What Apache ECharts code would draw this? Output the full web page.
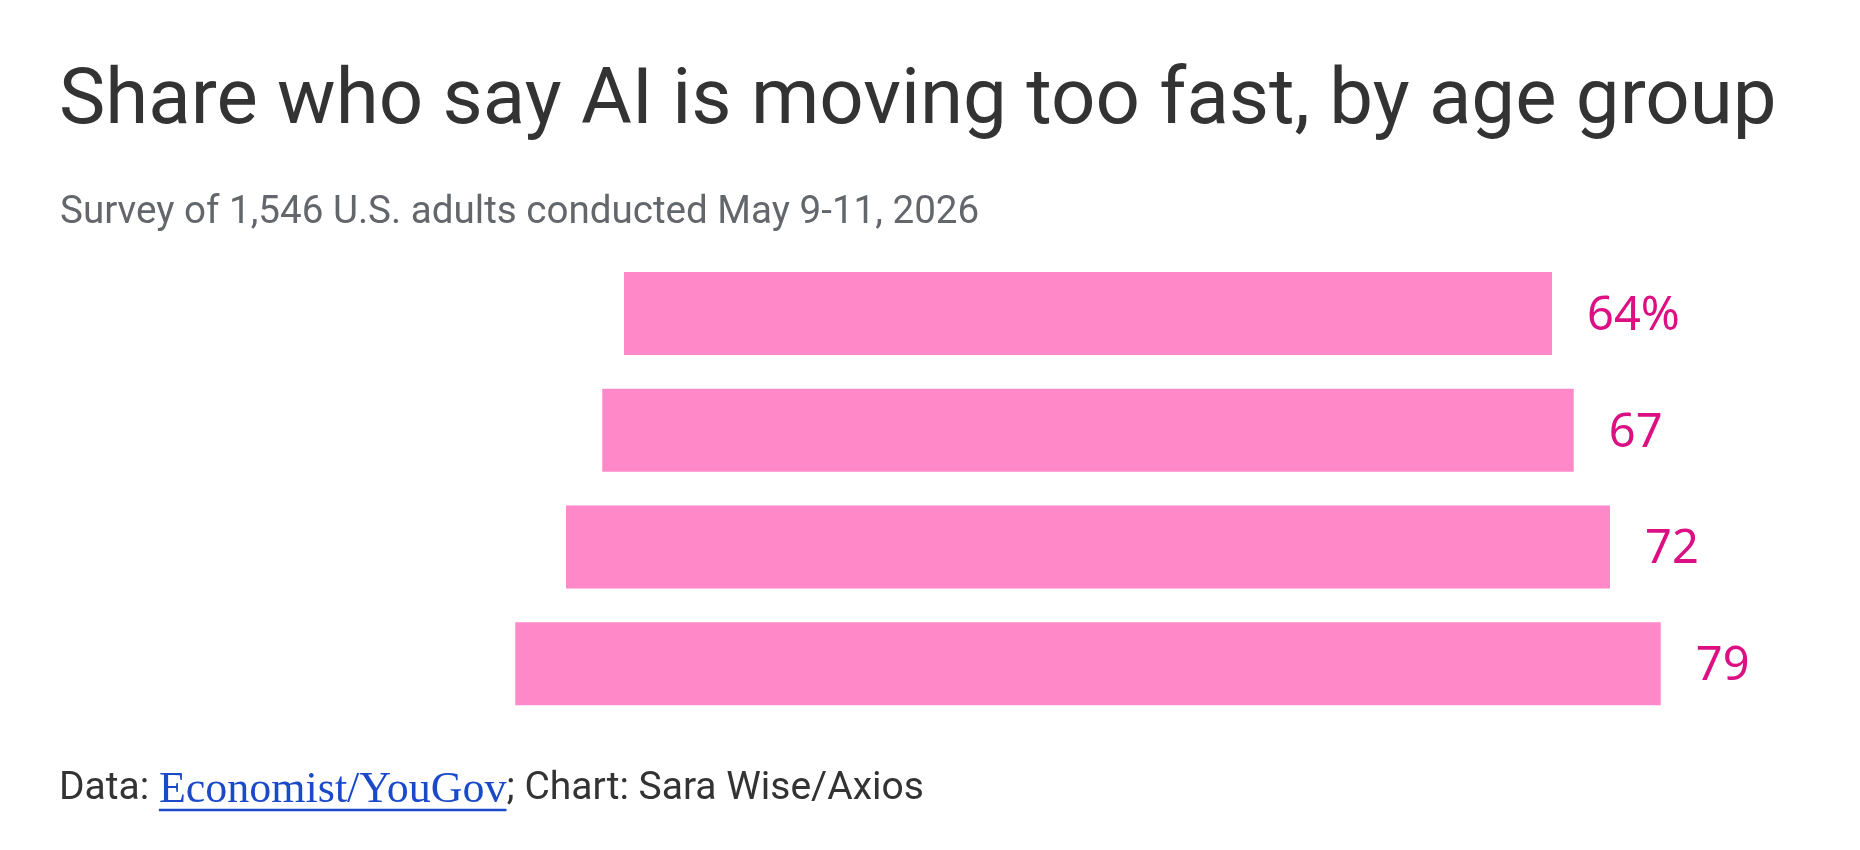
<!DOCTYPE html>
<html>
<head>
<meta charset="utf-8">
<title>Share who say AI is moving too fast, by age group</title>
<script src="https://cdn.jsdelivr.net/npm/echarts@6/dist/echarts.min.js"></script>
<style>
  html, body { margin: 0; padding: 0; background: #fff; }
  #chart { width: 1860px; height: 850px; }
</style>
</head>
<body>
<div id="chart"></div>
<script>
// age groups, youngest at top
var categories = ['18-29', '30-44', '45-64', '65+'];
var shares = [64, 67, 72, 79];
var centre = 50; // bars are centred on this axis value

var titleText = 'Share who say AI is moving too fast, by age group';
var subtitleText = 'Survey of 1,546 U.S. adults conducted May 9-11, 2026';
var sourceLead = 'Data: ';
var sourceLink = 'Economist/YouGov';
var sourceTail = '; Chart: Sara Wise/Axios';

// invisible spacer so each bar sits centred
var offsets = shares.map(function (v) { return centre - v / 2; });

var sansFont = 'Roboto';
var footLeft = 59, footBase = 801;
var leadFont = '39px Roboto', linkFont = '44px "Liberation Serif"';

// measure footer pieces so the underline sits under the link only
var ctx = document.createElement('canvas').getContext('2d');
ctx.font = leadFont;
var leadW = ctx.measureText(sourceLead).width;
ctx.font = linkFont;
var linkW = ctx.measureText(sourceLink).width;

var chart = echarts.init(document.getElementById('chart'));

var option = {
  backgroundColor: '#fff',
  animation: false,
  title: [
    {
      text: titleText,
      left: 54,
      top: 59,
      textStyle: {
        fontFamily: sansFont,
        fontSize: 78,
        fontWeight: 'normal',
        color: '#333333'
      }
    },
    {
      text: subtitleText,
      left: 55,
      top: 189,
      textStyle: {
        fontFamily: sansFont,
        fontSize: 38.6,
        fontWeight: 'normal',
        color: '#63666b'
      }
    }
  ],
  grid: { left: 363, right: 47, top: 255, bottom: 128 },
  xAxis: {
    type: 'value',
    min: 0,
    max: 100,
    show: false
  },
  yAxis: {
    type: 'category',
    data: categories,
    inverse: true,
    show: false
  },
  series: [
    {
      name: 'offset',
      type: 'bar',
      stack: 'all',
      data: offsets,
      barWidth: 83,
      itemStyle: { color: 'rgba(0,0,0,0)' },
      silent: true
    },
    {
      name: 'share',
      type: 'bar',
      stack: 'all',
      data: shares,
      barWidth: 83,
      itemStyle: { color: '#ff88c8' },
      label: {
        show: true,
        position: 'right',
        distance: 35,
        offset: [0, 3],
        fontFamily: 'Noto Sans',
        fontSize: 47,
        color: '#dc0f83',
        formatter: function (p) {
          return p.dataIndex === 0 ? p.value + '%' : p.value;
        }
      }
    }
  ],
  graphic: [
    {
      type: 'text',
      x: footLeft,
      y: footBase - 31,
      style: { text: sourceLead, font: leadFont, fill: '#333333' }
    },
    {
      type: 'text',
      x: footLeft + leadW,
      y: footBase - 33,
      style: { text: sourceLink, font: linkFont, fill: '#1a49c9' }
    },
    {
      type: 'text',
      x: footLeft + leadW + linkW,
      y: footBase - 31,
      style: { text: sourceTail, font: leadFont, fill: '#333333' }
    },
    {
      type: 'line',
      shape: { x1: footLeft + leadW, y1: footBase + 9, x2: footLeft + leadW + linkW, y2: footBase + 9 },
      style: { stroke: '#1a49c9', lineWidth: 2.5 }
    }
  ]
};

chart.setOption(option);
</script>
</body>
</html>
